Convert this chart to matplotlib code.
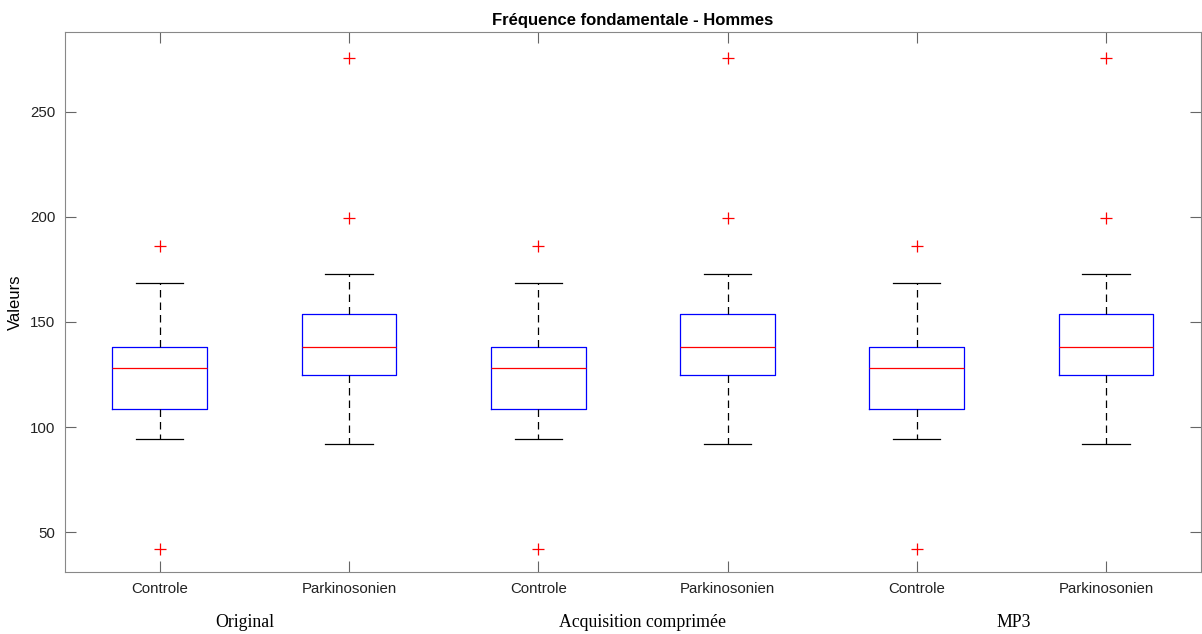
import matplotlib.pyplot as plt

# box statistics per group (Hz)
groups = ['Original', 'Acquisition comprimée', 'MP3']
categories = ['Controle', 'Parkinosonien']

controle = {'whislo': 94.4, 'q1': 108.8, 'med': 128.1, 'q3': 138.1, 'whishi': 168.6,
            'fliers': [186.2, 42.1]}
parkinson = {'whislo': 91.8, 'q1': 124.8, 'med': 138.1, 'q3': 153.9, 'whishi': 172.9,
             'fliers': [199.4, 275.7]}

stats = []
labels = []
for g in groups:
    for name, s in zip(categories, [controle, parkinson]):
        d = dict(s)
        d['label'] = name
        stats.append(d)
        labels.append(name)

fig = plt.figure(figsize=(12.02, 6.34), dpi=100)
ax = fig.add_axes([0.054, 0.0978, 0.945, 0.8517])

positions = list(range(1, len(stats) + 1))
ax.bxp(stats, positions=positions, widths=0.5, showfliers=True,
       boxprops=dict(color='blue', linewidth=0.9),
       medianprops=dict(color='red', linewidth=0.9),
       whiskerprops=dict(color='black', linestyle=(0, (6, 4)), linewidth=0.9),
       capprops=dict(color='black', linewidth=0.9),
       capwidths=0.25,
       flierprops=dict(marker='+', markeredgecolor='red', markersize=8,
                       markeredgewidth=0.9, linestyle='none'))

ax.set_xlim(0.5, 6.5)
ax.set_ylim(31, 288)
ax.set_yticks([50, 100, 150, 200, 250])
ax.set_xticks(positions)
ax.set_xticklabels(labels, fontsize=10.8, family='Liberation Sans')
for t in ax.get_yticklabels():
    t.set_fontsize(10.8)
    t.set_family('Liberation Sans')

for sp in ax.spines.values():
    sp.set_color('#888888')
ax.tick_params(direction='in', length=8, color='#666666', top=True, right=True,
               labelcolor='#222222', pad=7)

ax.set_ylabel('Valeurs', fontsize=12, family='Liberation Sans', labelpad=5)
ax.set_title('Fréquence fondamentale - Hommes', fontsize=12, fontweight='bold',
             family='Liberation Sans', pad=5)

# group names under the category labels
group_x = [1.45, 3.55, 5.51]
for gx, g in zip(group_x, groups):
    ax.text(gx, -0.094, g, transform=ax.get_xaxis_transform(), ha='center', va='center',
            fontsize=12.8, family='Liberation Serif', color='black')

fig.savefig('out.png', dpi=100)
